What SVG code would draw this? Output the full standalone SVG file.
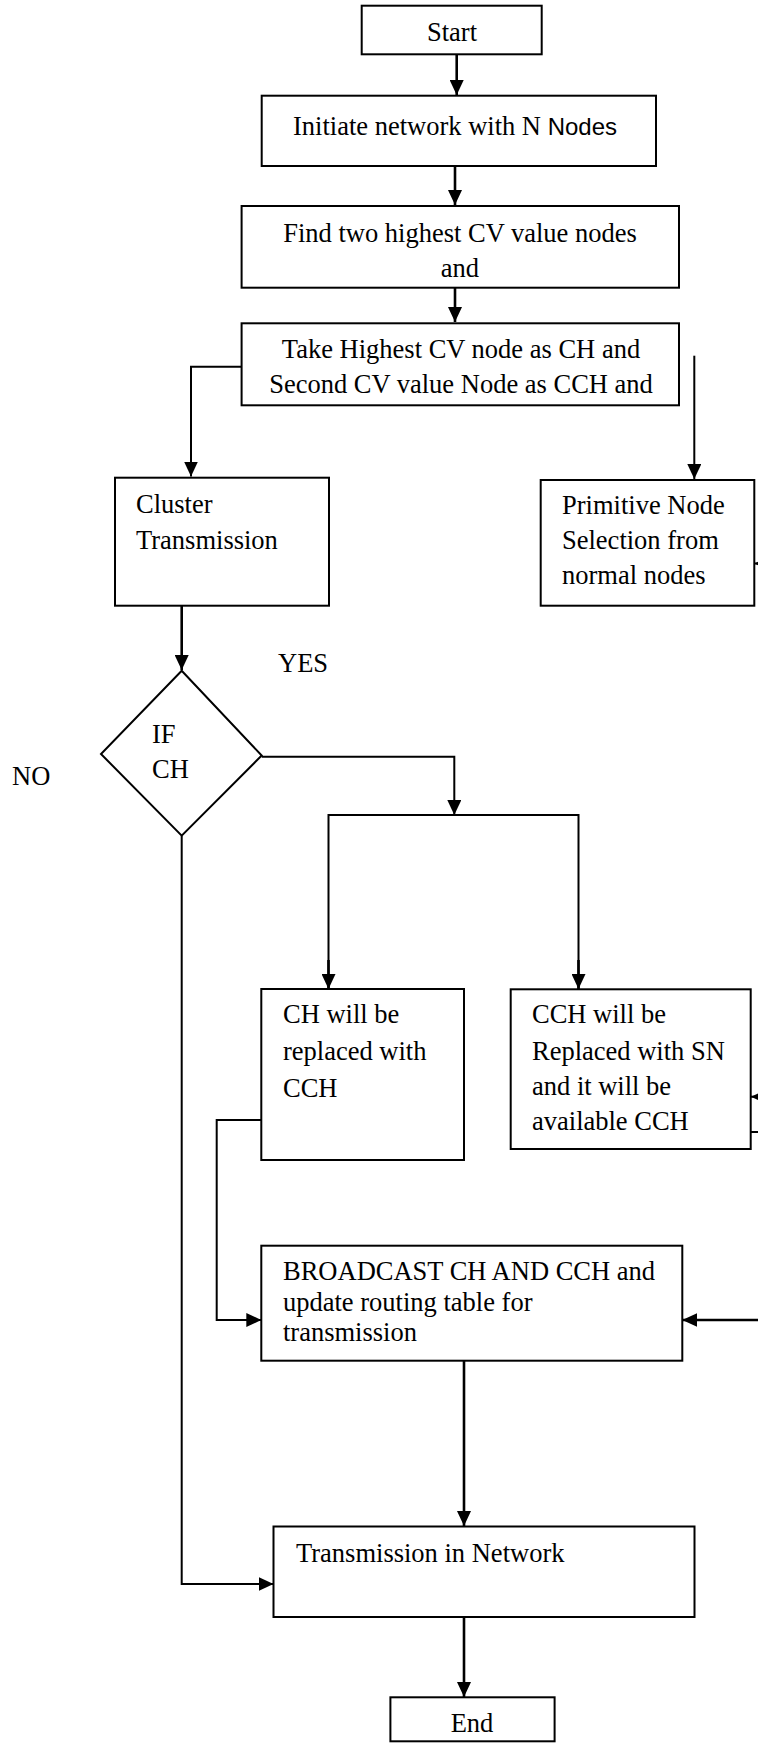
<svg xmlns="http://www.w3.org/2000/svg" width="758" height="1744" viewBox="0 0 758 1744">
<style>
.box{fill:#fff;stroke:#000;stroke-width:2}
.ln{fill:none;stroke:#000;stroke-width:2}
.lt{fill:none;stroke:#000;stroke-width:2.6}
.t{font-family:"Liberation Serif","Times New Roman",serif;font-size:26.5px;fill:#000}
.c{text-anchor:middle}
.s{font-family:"Liberation Sans",Arial,sans-serif;font-size:24px}
</style>
<defs>
<marker id="ah" markerUnits="userSpaceOnUse" markerWidth="16" markerHeight="14" viewBox="0 0 16 14" refX="15" refY="7" orient="auto">
<path d="M0,0 L15,7 L0,14 z" fill="#000"/>
</marker>
</defs>
<rect width="758" height="1744" fill="#fff"/>

<g id="connectors">
<line class="lt" x1="456.7" y1="54" x2="456.7" y2="95" marker-end="url(#ah)"/>
<line class="lt" x1="455" y1="166" x2="455" y2="205" marker-end="url(#ah)"/>
<line class="lt" x1="455" y1="288" x2="455" y2="322" marker-end="url(#ah)"/>
<polyline class="ln" points="241.6,366.7 191,366.7 191,476.5" marker-end="url(#ah)"/>
<line class="ln" x1="694.3" y1="355.7" x2="694.3" y2="479" marker-end="url(#ah)"/>
<line class="ln" x1="770" y1="563.5" x2="754.5" y2="563.5" marker-end="url(#ah)"/>
<line class="lt" x1="181.7" y1="605.7" x2="181.7" y2="670" marker-end="url(#ah)"/>
<polyline class="ln" points="261.7,756.7 454.3,756.7 454.3,815" marker-end="url(#ah)"/>
<polyline class="ln" points="328.5,989 328.5,815 578.5,815 578.5,989"/>
<line class="lt" x1="328.5" y1="960" x2="328.5" y2="989" marker-end="url(#ah)"/>
<line class="lt" x1="578.5" y1="960" x2="578.5" y2="989" marker-end="url(#ah)"/>
<line class="ln" x1="770" y1="1096.7" x2="751" y2="1096.7" marker-end="url(#ah)"/>
<line class="ln" x1="751" y1="1132" x2="758" y2="1132"/>
<polyline class="ln" points="261.3,1120 216.7,1120 216.7,1320 261.3,1320" marker-end="url(#ah)"/>
<line class="lt" x1="758" y1="1320" x2="682.3" y2="1320" marker-end="url(#ah)"/>
<line class="lt" x1="464" y1="1361" x2="464" y2="1526" marker-end="url(#ah)"/>
<polyline class="ln" points="181.7,835.7 181.7,1584 273.5,1584" marker-end="url(#ah)"/>
<line class="lt" x1="464" y1="1617" x2="464" y2="1697" marker-end="url(#ah)"/>
</g>

<g id="start">
<rect class="box" x="361.7" y="5.7" width="180" height="48.6"/>
<text class="t c" x="452" y="41">Start</text>
</g>
<g id="initiate">
<rect class="box" x="261.7" y="95.7" width="394.3" height="70.3"/>
<text class="t" x="293" y="135">Initiate network with N <tspan class="s">Nodes</tspan></text>
</g>
<g id="find">
<rect class="box" x="241.6" y="206" width="437.4" height="81.7"/>
<text class="t c" x="460" y="242">Find two highest CV value nodes</text>
<text class="t c" x="460" y="277">and</text>
</g>
<g id="take">
<rect class="box" x="241.6" y="323.3" width="437.4" height="82"/>
<text class="t c" x="461" y="358">Take Highest CV node as CH and</text>
<text class="t c" x="461" y="393">Second CV value Node as CCH and</text>
</g>
<g id="cluster">
<rect class="box" x="115" y="477.7" width="214" height="128"/>
<text class="t" x="136" y="513">Cluster</text>
<text class="t" x="136" y="549">Transmission</text>
</g>
<g id="primitive">
<rect class="box" x="540.7" y="480" width="213.6" height="125.7"/>
<text class="t" x="562" y="514">Primitive Node</text>
<text class="t" x="562" y="549">Selection from</text>
<text class="t" x="562" y="584">normal nodes</text>
</g>
<g id="labels">
<text class="t" x="278" y="672">YES</text>
<text class="t" x="12" y="785">NO</text>
</g>
<g id="ifch">
<polygon class="box" points="181.7,670.7 261.7,755.5 181.7,835.7 101,754"/>
<text class="t" x="152" y="743">IF</text>
<text class="t" x="152" y="778">CH</text>
</g>
<g id="chreplace">
<rect class="box" x="261.3" y="989" width="202.7" height="171"/>
<text class="t" x="283" y="1023">CH will be</text>
<text class="t" x="283" y="1060">replaced with</text>
<text class="t" x="283" y="1097">CCH</text>
</g>
<g id="cchreplace">
<rect class="box" x="510.7" y="989.3" width="240" height="159.7"/>
<text class="t" x="532" y="1023">CCH will be</text>
<text class="t" x="532" y="1060">Replaced with SN</text>
<text class="t" x="532" y="1095">and it will be</text>
<text class="t" x="532" y="1130">available CCH</text>
</g>
<g id="broadcast">
<rect class="box" x="261.3" y="1245.7" width="421" height="115"/>
<text class="t" x="283" y="1280">BROADCAST CH AND CCH and</text>
<text class="t" x="283" y="1311">update routing table for</text>
<text class="t" x="283" y="1341">transmission</text>
</g>
<g id="transmission">
<rect class="box" x="273.5" y="1526.5" width="421" height="90.5"/>
<text class="t" x="296" y="1562">Transmission in Network</text>
</g>
<g id="end">
<rect class="box" x="390.4" y="1697.3" width="164.2" height="44"/>
<text class="t c" x="472" y="1732">End</text>
</g>
</svg>
